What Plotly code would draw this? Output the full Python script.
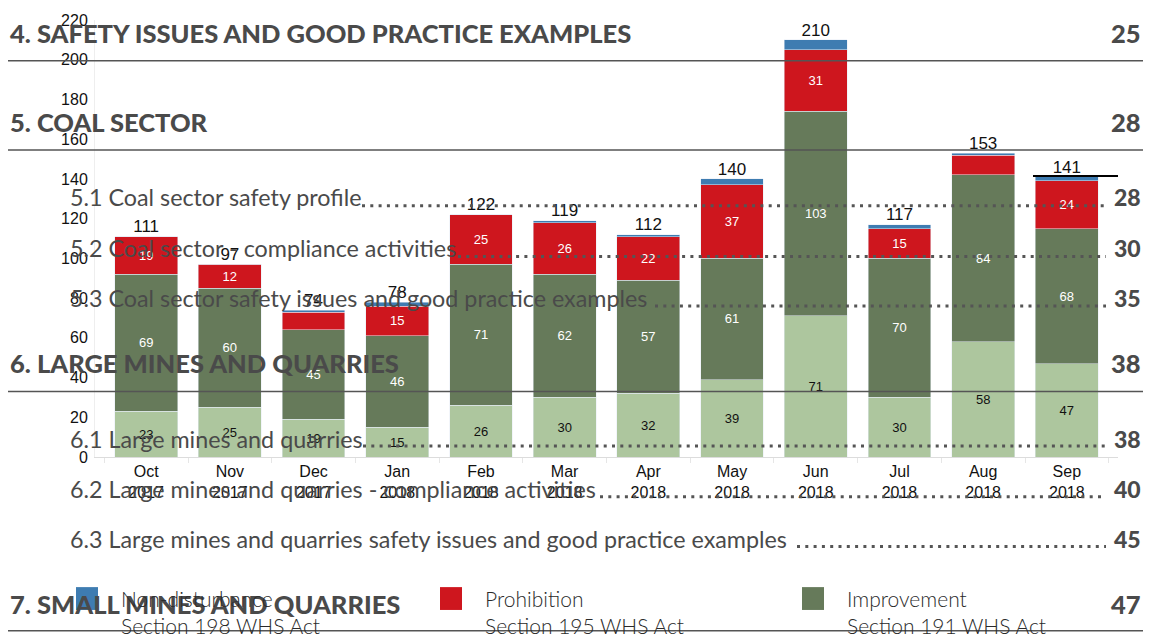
import plotly.graph_objects as go

# ---------------- data ----------------
months = ["Oct<br>2017", "Nov<br>2017", "Dec<br>2017", "Jan<br>2018", "Feb<br>2018", "Mar<br>2018",
          "Apr<br>2018", "May<br>2018", "Jun<br>2018", "Jul<br>2018", "Aug<br>2018", "Sep<br>2018"]
other_notices = [23, 25, 19, 15, 26, 30, 32, 39, 71, 30, 58, 47]
improvement = [69, 60, 45, 46, 71, 62, 57, 61, 103, 70, 84, 68]
prohibition = [19, 12, 9, 15, 25, 26, 22, 37, 31, 15, 10, 24]
non_disturbance = [0, 0, 1, 2, 0, 1, 1, 3, 5, 2, 1, 2]
totals = [111, 97, 74, 78, 122, 119, 112, 140, 210, 117, 153, 141]

legend_names = ["Non-disturbance", "Prohibition", "Improvement"]
legend_subs = ["Section 198 WHS Act", "Section 195 WHS Act", "Section 191 WHS Act"]

toc_entries = [  # (text, page, level)
    ("4. SAFETY ISSUES AND GOOD PRACTICE EXAMPLES", "25", 1),
    ("5. COAL SECTOR", "28", 1),
    ("5.1 Coal sector safety profile", "28", 2),
    ("5.2 Coal sector - compliance activities", "30", 2),
    ("5.3 Coal sector safety issues and good practice examples", "35", 2),
    ("6. LARGE MINES AND QUARRIES", "38", 1),
    ("6.1 Large mines and quarries", "38", 2),
    ("6.2 Large mines and quarries - compliance activities", "40", 2),
    ("6.3 Large mines and quarries safety issues and good practice examples", "45", 2),
    ("7. SMALL MINES AND QUARRIES", "47", 1),
]

# ---------------- styling / layout ----------------
C_LIGHT = "#adc69e"
C_IMPR = "#667a5a"
C_PROH = "#ce161e"
C_NOND = "#3e7cb1"
TOC_COLOR = "#4a4a4a"

W, H = 1151, 638
L, R, T, B = 95, 33, 17, 181
PW, PH = W - L - R, H - T - B

def px(x):
    return (x - L) / PW

def py(y):
    return (H - B - y) / PH

def lbl(vals, thr):
    return [str(v) if v >= thr else "" for v in vals]

fig = go.Figure()
bar_common = dict(x=months, textposition="inside", insidetextanchor="middle",
                  textangle=0, constraintext="none", hoverinfo="skip")
fig.add_bar(y=other_notices, marker_color=C_LIGHT, text=lbl(other_notices, 1),
            textfont=dict(color="#111111", size=13, family="Liberation Sans"), name="Other", **bar_common)
fig.add_bar(y=improvement, marker_color=C_IMPR, text=lbl(improvement, 12),
            textfont=dict(color="#ffffff", size=13, family="Liberation Sans"), name="Improvement", **bar_common)
fig.add_bar(y=prohibition, marker_color=C_PROH, text=lbl(prohibition, 12),
            textfont=dict(color="#ffffff", size=13, family="Liberation Sans"), name="Prohibition", **bar_common)
fig.add_bar(y=non_disturbance, marker_color=C_NOND, text=None, name="Non-disturbance", **bar_common)
fig.add_scatter(x=months, y=totals, mode="text", text=[str(t) for t in totals],
                textposition="top center", textfont=dict(size=17, color="#111111", family="Liberation Sans"),
                cliponaxis=False, hoverinfo="skip")

annotations = []
shapes = []

# TOC overlay (text centre rows, in pixels from the top)
toc_y = [30, 120, 195, 246.5, 297, 362, 438.5, 489.5, 540, 605]
dot_y = [None, None, 204, 255, 305, None, 446, 497, 547, None]
dot_start = [None, None, 362, 458, 655, None, 363, 600, 797, None]
rule_y = {0: 58, 1: 148, 5: 391, 9: 632}
for i, (txt, page, lvl) in enumerate(toc_entries):
    y = toc_y[i]
    if lvl == 1:
        annotations.append(dict(text=txt, x=px(8), y=py(y), xref="paper", yref="paper",
                                xanchor="left", yanchor="middle", showarrow=False,
                                font=dict(family="Lato", size=25.5, weight=900, color=TOC_COLOR)))
        annotations.append(dict(text=page, x=px(1143), y=py(y), xref="paper", yref="paper",
                                xanchor="right", yanchor="middle", showarrow=False,
                                font=dict(family="Lato", size=25.5, weight=900, color=TOC_COLOR)))
        ry = rule_y[i]
        shapes.append(dict(type="line", xref="paper", yref="paper", x0=px(8), x1=px(1143), y0=py(ry), y1=py(ry),
                           line=dict(color="#555555", width=1.5), layer="above"))
    else:
        annotations.append(dict(text=txt, x=px(68), y=py(y), xref="paper", yref="paper",
                                xanchor="left", yanchor="middle", showarrow=False,
                                font=dict(family="Lato", size=23.3, color=TOC_COLOR)))
        annotations.append(dict(text=page, x=px(1143), y=py(y), xref="paper", yref="paper",
                                xanchor="right", yanchor="middle", showarrow=False,
                                font=dict(family="Lato", size=23, weight=900, color=TOC_COLOR)))
        shapes.append(dict(type="line", xref="paper", yref="paper", x0=px(dot_start[i]), x1=px(1106),
                           y0=py(dot_y[i]), y1=py(dot_y[i]), line=dict(color="#555555", width=3, dash="3px,5.3px"),
                           layer="above"))

# short black rule above the last total
shapes.append(dict(type="line", xref="paper", yref="paper", x0=px(1033), x1=px(1118), y0=py(174), y1=py(174),
                   line=dict(color="#000000", width=2), layer="above"))

# legend (manual, two-line labels)
leg_colors = [C_NOND, C_PROH, C_IMPR]
leg_x = [76, 440, 802]
for name, sub, col, lx in zip(legend_names, legend_subs, leg_colors, leg_x):
    shapes.append(dict(type="rect", xref="paper", yref="paper", x0=px(lx), x1=px(lx + 22),
                       y0=py(611), y1=py(588), fillcolor=col, line=dict(width=0), layer="above"))
    annotations.append(dict(text=name + "<br>" + sub, x=px(lx + 43), y=py(585), xref="paper", yref="paper",
                            xanchor="left", yanchor="top", align="left", showarrow=False,
                            font=dict(family="Lato", size=21, weight=300, color="#2a2a2a")))

fig.update_layout(
    width=W, height=H,
    margin=dict(l=L, r=R, t=T, b=B, pad=0),
    barmode="stack", bargap=0.25,
    plot_bgcolor="white", paper_bgcolor="white",
    showlegend=False,
    annotations=annotations, shapes=shapes,
    font=dict(family="Liberation Sans", color="#111111"),
)
fig.update_xaxes(showline=True, linecolor="#dcdcdc", linewidth=1, ticks="outside", tickson="boundaries",
                 ticklen=5, tickcolor="#e6e6e6", tickfont=dict(size=16, color="#111111"), showgrid=False)
fig.update_yaxes(range=[0, 220], dtick=20, showgrid=False, showline=True, linecolor="#eeeeee",
                 tickfont=dict(size=16, color="#111111"), ticks="", ticklabelstandoff=3, zeroline=False)

fig.write_html("out.html", config={"displayModeBar": False},
               post_script="document.body.style.margin='0';document.body.style.overflow='hidden';")
